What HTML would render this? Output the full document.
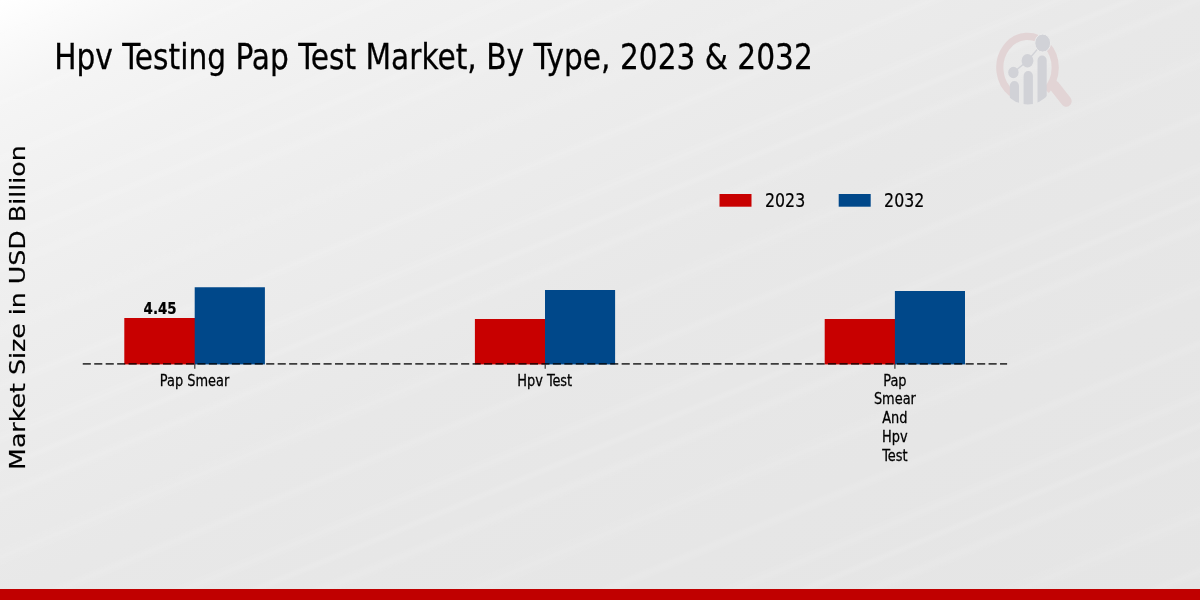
<!DOCTYPE html>
<html lang="en">
<head>
<meta charset="utf-8">
<title>Hpv Testing Pap Test Market, By Type, 2023 &amp; 2032</title>
<style>
html,body{margin:0;padding:0;}
body{width:1200px;height:600px;overflow:hidden;background:#e8e8e8;}
svg{display:block;position:absolute;left:0;top:0;}
.c{font-family:"DejaVu Sans Condensed","DejaVu Sans","Liberation Sans",sans-serif;}
.n{font-family:"DejaVu Sans","Liberation Sans",sans-serif;}
</style>
</head>
<body>
<svg width="1200" height="600" viewBox="0 0 1200 600">
  <defs>
    <linearGradient id="bg" gradientUnits="userSpaceOnUse" x1="360" y1="-180" x2="840" y2="780">
      <stop offset="0" stop-color="#ffffff"/>
      <stop offset="0.04" stop-color="#fafafa"/>
      <stop offset="0.083" stop-color="#f5f5f5"/>
      <stop offset="0.167" stop-color="#f1f1f1"/>
      <stop offset="0.29" stop-color="#ededed"/>
      <stop offset="0.5" stop-color="#e8e8e8"/>
      <stop offset="0.75" stop-color="#e6e6e6"/>
      <stop offset="1" stop-color="#e5e5e5"/>
    </linearGradient>
    <linearGradient id="sk" x1="0" y1="0" x2="0" y2="1">
      <stop offset="0" stop-color="#fff" stop-opacity="0"/>
      <stop offset="0.5" stop-color="#fff" stop-opacity="0.12"/>
      <stop offset="1" stop-color="#fff" stop-opacity="0"/>
    </linearGradient>
    <pattern id="streaks" patternUnits="userSpaceOnUse" width="400" height="210" patternTransform="rotate(-22.5)">
      <rect x="0" y="8" width="400" height="9" fill="url(#sk)"/>
      <rect x="0" y="30" width="400" height="16" fill="url(#sk)" opacity="0.8"/>
      <rect x="0" y="84" width="400" height="22" fill="url(#sk)" opacity="0.7"/>
      <rect x="0" y="141" width="400" height="12" fill="url(#sk)" opacity="0.9"/>
      <rect x="0" y="188" width="400" height="14" fill="url(#sk)" opacity="0.75"/>
    </pattern>
  </defs>
  <rect x="0" y="0" width="1200" height="600" fill="url(#bg)"/>
  <rect x="0" y="0" width="1200" height="600" fill="url(#streaks)"/>


  <!-- logo watermark -->
  <defs>
    <clipPath id="lens"><ellipse cx="1027.5" cy="68" rx="30.8" ry="36.4"/></clipPath>
  </defs>
  <g>
    <line x1="1054" y1="85.6" x2="1066.2" y2="101.2" stroke="#e2d4d5" stroke-width="11" stroke-linecap="round"/>
    <path d="M 1011.6 93.1 A 27.7 31.2 0 1 1 1046.2 90.6" fill="none" stroke="#e2d4d5" stroke-width="7.2"/>
    <g clip-path="url(#lens)" fill="#d1d2d7">
      <rect x="1009.8" y="81" width="9.2" height="30" rx="4.6" ry="5"/>
      <rect x="1023.6" y="71" width="9.3" height="40" rx="4.65" ry="5"/>
      <rect x="1037.5" y="55.5" width="9.2" height="55" rx="4.6" ry="5"/>
    </g>
    <polyline points="1013.4,72.5 1027.5,60.7 1042.7,43.1" fill="none" stroke="#d1d2d7" stroke-width="1.4"/>
    <ellipse cx="1013.4" cy="72.5" rx="5.2" ry="5.7" fill="#d1d2d7"/>
    <ellipse cx="1027.5" cy="60.7" rx="5.9" ry="6.7" fill="#d1d2d7"/>
    <ellipse cx="1042.7" cy="43.1" rx="7.9" ry="9" fill="#d1d2d7" stroke="#ececec" stroke-width="1"/>
  </g>

  <!-- title -->
  <text class="c" transform="translate(54.2,69) scale(0.937,1)" font-size="35.2" fill="#000" stroke="#000" stroke-width="0.25">Hpv Testing Pap Test Market, By Type, 2023 &amp; 2032</text>

  <!-- y label -->
  <text class="n" transform="translate(24.8,307.6) scale(0.85,1) rotate(-90)" font-size="25.26" text-anchor="middle" fill="#000" stroke="#000" stroke-width="0.2">Market Size in USD Billion</text>

  <!-- bars -->
  <g>
  <rect x="124.3" y="318" width="71" height="46.4" fill="#c80000"/>
  <rect x="194.7" y="287.25" width="70.2" height="77.15" fill="#00488a"/>
  <rect x="474.9" y="319" width="71" height="45.4" fill="#c80000"/>
  <rect x="545" y="290" width="70.1" height="74.4" fill="#00488a"/>
  <rect x="824.7" y="319" width="71" height="45.4" fill="#c80000"/>
  <rect x="894.9" y="291" width="70.1" height="73.4" fill="#00488a"/>
  </g>

  <!-- axis -->
  <line x1="82.75" y1="363.8" x2="1007.1" y2="363.8" stroke="#000" stroke-opacity="0.74" stroke-width="1.7" stroke-dasharray="8.1 3.366"/>
  <g stroke="#333" stroke-width="1.15">
    <line x1="194.8" y1="364" x2="194.8" y2="368.8"/>
    <line x1="545.2" y1="364" x2="545.2" y2="368.8"/>
    <line x1="894.9" y1="364" x2="894.9" y2="368.8"/>
  </g>

  <!-- value label -->
  <text class="c" font-weight="bold" transform="translate(160.1,314.4) scale(0.985,1)" font-size="15.1" text-anchor="middle" fill="#000" stroke="#000" stroke-width="0.2">4.45</text>

  <!-- tick labels -->
  <g class="c" font-size="15.4" text-anchor="middle" fill="#000" stroke="#000" stroke-width="0.25">
    <text transform="translate(194.6,385.6) scale(0.935,1)">Pap Smear</text>
    <text transform="translate(544.7,385.6) scale(0.935,1)">Hpv Test</text>
    <text transform="translate(894.9,385.6) scale(0.935,1)">Pap</text>
    <text transform="translate(894.9,404.4) scale(0.935,1)">Smear</text>
    <text transform="translate(894.9,423.2) scale(0.935,1)">And</text>
    <text transform="translate(894.9,442) scale(0.935,1)">Hpv</text>
    <text transform="translate(894.9,460.8) scale(0.935,1)">Test</text>
  </g>

  <!-- legend -->
  <rect x="719.5" y="194" width="32" height="12.7" fill="#c80000"/>
  <rect x="838.7" y="194" width="32" height="12.7" fill="#00488a"/>
  <g class="c" font-size="19.4" fill="#000" stroke="#000" stroke-width="0.2">
    <text transform="translate(765,207.2) scale(0.905,1)">2023</text>
    <text transform="translate(884.1,207.2) scale(0.905,1)">2032</text>
  </g>

  <!-- bottom band -->
  <rect x="0" y="589" width="1200" height="11" fill="#c00000"/>
</svg>
</body>
</html>
